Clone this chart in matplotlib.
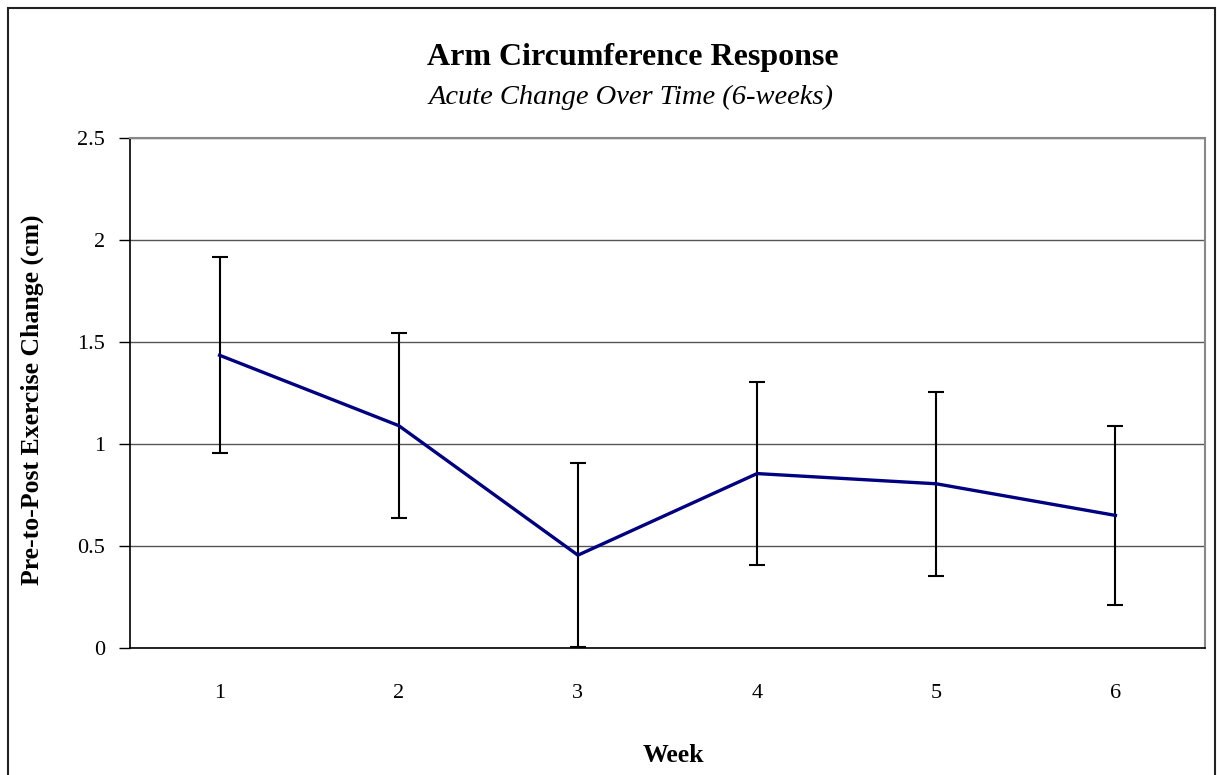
import matplotlib
matplotlib.use("Agg")
import matplotlib.pyplot as plt
from matplotlib.patches import Rectangle

weeks = [1, 2, 3, 4, 5, 6]
change = [1.435, 1.09, 0.455, 0.855, 0.805, 0.65]
err = [0.48, 0.455, 0.45, 0.45, 0.45, 0.44]
yticks = [0, 0.5, 1, 1.5, 2, 2.5]
yticklabels = ["0", "0.5", "1", "1.5", "2", "2.5"]

plt.rcParams['font.family'] = ['Liberation Serif', 'DejaVu Serif']

W, H = 1217, 775
fig = plt.figure(figsize=(W / 100, H / 100), dpi=100)

# figure border
fig.patches.append(Rectangle((8 / W, -0.05), (1215 - 8) / W, (H - 8) / H + 0.05,
                             transform=fig.transFigure, fill=False,
                             edgecolor='#222222', linewidth=1.5))

ax = fig.add_axes([130 / W, (H - 648) / H, (1205 - 130) / W, (648 - 138) / H])
ax.set_xlim(0.5, 6.5)
ax.set_ylim(0, 2.5)
ax.set_yticks(yticks)
ax.set_yticklabels(yticklabels)
ax.set_xticks(weeks)
ax.set_xticklabels([str(w) for w in weeks])
ax.tick_params(axis='x', length=0, pad=26, labelsize=16)
ax.tick_params(axis='y', length=8, width=1, pad=10, labelsize=16, direction='out')

ax.yaxis.grid(True, color='#555555', linewidth=1)
ax.set_axisbelow(True)
ax.spines['left'].set_color('black')
ax.spines['bottom'].set_color('black')
ax.spines['left'].set_linewidth(1.2)
ax.spines['bottom'].set_linewidth(1.2)
ax.spines['top'].set_color('#888888')
ax.spines['right'].set_color('#888888')
ax.spines['top'].set_linewidth(1.5)
ax.spines['right'].set_linewidth(1.5)

ax.errorbar(weeks, change, yerr=err, fmt='none', ecolor='black',
            elinewidth=1.5, capsize=5.5, capthick=1.5, zorder=3)
ax.plot(weeks, change, color='#000080', linewidth=2.4, zorder=4, clip_on=False)

fig.text(633 / W, 1 - 57 / H, "Arm Circumference Response", ha='center', va='center',
         fontsize=23, fontweight='bold')
fig.text(631 / W, 1 - 97 / H, "Acute Change Over Time (6-weeks)", ha='center', va='center',
         fontsize=20.5, fontstyle='italic')
fig.text(32 / W, 1 - 400 / H, "Pre-to-Post Exercise Change (cm)", ha='center', va='center',
         rotation=90, fontsize=18.5, fontweight='bold')
fig.text(673 / W, 1 - 756 / H, "Week", ha='center', va='center',
         fontsize=18.5, fontweight='bold')

fig.savefig("out.png", dpi=100)
